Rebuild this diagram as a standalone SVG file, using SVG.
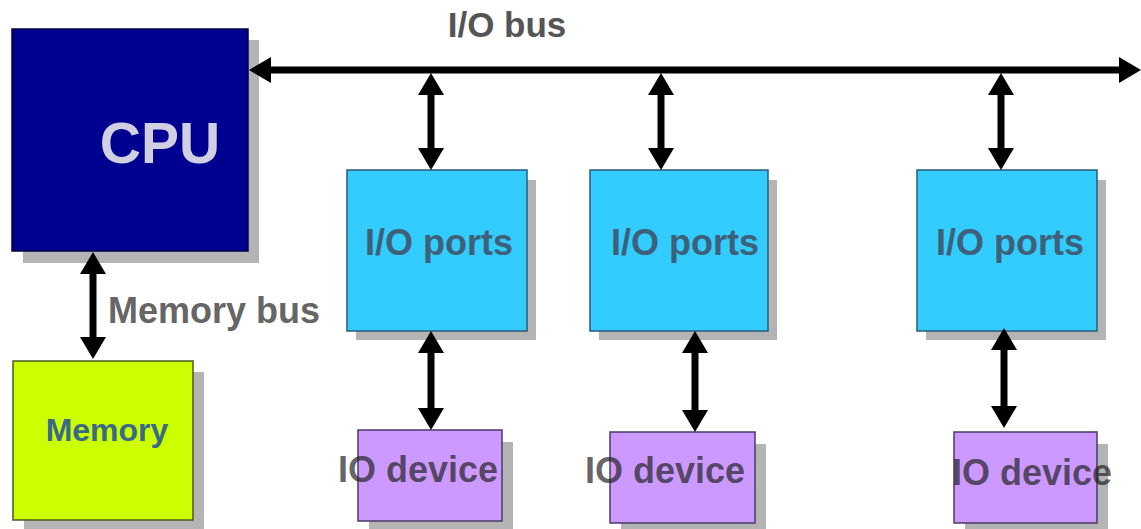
<svg xmlns="http://www.w3.org/2000/svg" width="1141" height="529" viewBox="0 0 1141 529">
<style>
  .shadow { fill: #b4b4b4; }
  .box { stroke-width: 1.5; }
  .cpu { fill: #000090; stroke: #00004a; }
  .port { fill: #33CCFF; stroke: #2a5a78; }
  .dev { fill: #CC99FF; stroke: #4a3a68; }
  .mem { fill: #CCFF00; stroke: #4a5a20; }
  .t { font-family: "Liberation Sans", Arial, sans-serif; font-weight: bold; }
  .conn line { stroke: #000; stroke-width: 7; marker-start: url(#ah); marker-end: url(#ah); }
</style>
<defs>
  <marker id="ah" viewBox="0 0 22 26" refX="10" refY="13" markerWidth="22" markerHeight="26" markerUnits="userSpaceOnUse" orient="auto-start-reverse">
    <path d="M0,0 L22,13 L0,26 z" fill="#000"/>
  </marker>
</defs>
<rect width="1141" height="529" fill="#fff"/>

<g id="cpu">
  <rect class="shadow" x="23" y="40" width="236" height="223"/>
  <rect class="box cpu" x="12" y="29" width="236" height="222"/>
  <text class="t" x="160" y="163" font-size="57" text-anchor="middle" fill="#d0d0e2">CPU</text>
</g>

<g id="memory">
  <rect class="shadow" x="24" y="372" width="180" height="160"/>
  <rect class="box mem" x="13" y="361" width="180" height="159"/>
  <text class="t" x="107" y="441" font-size="32" text-anchor="middle" fill="#3a6a8a">Memory</text>
</g>

<g id="ports1">
  <rect class="shadow" x="356" y="180" width="180" height="160"/>
  <rect class="box port" x="347" y="170" width="180" height="161"/>
  <text class="t" x="439" y="255" font-size="36" text-anchor="middle" fill="#3e6078">I/O ports</text>
</g>
<g id="ports2">
  <rect class="shadow" x="599" y="180" width="178" height="160"/>
  <rect class="box port" x="590" y="170" width="178" height="161"/>
  <text class="t" x="685" y="255" font-size="36" text-anchor="middle" fill="#3e6078">I/O ports</text>
</g>
<g id="ports3">
  <rect class="shadow" x="926" y="180" width="180" height="160"/>
  <rect class="box port" x="917" y="170" width="180" height="161"/>
  <text class="t" x="1010" y="255" font-size="36" text-anchor="middle" fill="#3e6078">I/O ports</text>
</g>

<g id="device1">
  <rect class="shadow" x="369" y="442" width="144" height="87"/>
  <rect class="box dev" x="358" y="430" width="144" height="91"/>
  <text class="t" x="418" y="482" font-size="36" text-anchor="middle" fill="#222" fill-opacity="0.7">IO device</text>
</g>
<g id="device2">
  <rect class="shadow" x="621" y="444" width="145" height="85"/>
  <rect class="box dev" x="610" y="432" width="145" height="91"/>
  <text class="t" x="665" y="483" font-size="36" text-anchor="middle" fill="#222" fill-opacity="0.7">IO device</text>
</g>
<g id="device3">
  <rect class="shadow" x="965" y="444" width="143" height="85"/>
  <rect class="box dev" x="954" y="432" width="143" height="91"/>
  <text class="t" x="1032" y="485" font-size="36" text-anchor="middle" fill="#222" fill-opacity="0.7">IO device</text>
</g>

<g id="labels">
  <text class="t" x="507" y="37" font-size="35" text-anchor="middle" fill="#555">I/O bus</text>
  <text class="t" x="108" y="323" font-size="36" fill="#666">Memory bus</text>
</g>

<g id="connectors" class="conn">
  <line x1="261" y1="70" x2="1129" y2="70"/>
  <line x1="431" y1="85" x2="431" y2="158"/>
  <line x1="661" y1="85" x2="661" y2="158"/>
  <line x1="1001" y1="85" x2="1001" y2="158"/>
  <line x1="93" y1="264" x2="93" y2="347"/>
  <line x1="431" y1="343" x2="431" y2="418"/>
  <line x1="695" y1="343" x2="695" y2="420"/>
  <line x1="1004" y1="340" x2="1004" y2="416"/>
</g>
</svg>
